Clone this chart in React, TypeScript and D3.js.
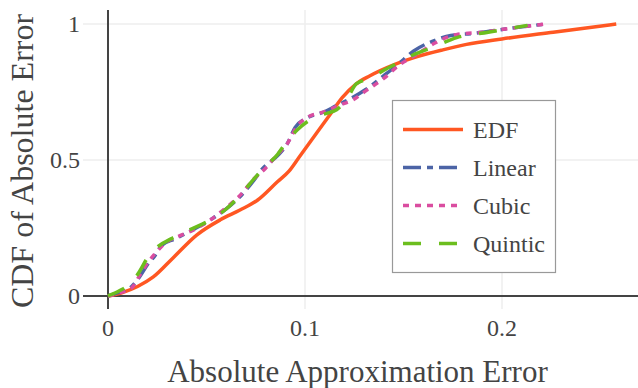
import React from "react";
import * as d3 from "d3";

const W = 638;
const H = 388;

const xTicks = [0, 0.1, 0.2];
const xTickLabels = ["0", "0.1", "0.2"];
const yTicks = [0, 0.5, 1];
const yTickLabels = ["0", "0.5", "1"];

const seriesNames = ["EDF", "Linear", "Cubic", "Quintic"];

const edfX = [0, 0.007, 0.015, 0.023, 0.033, 0.045, 0.057, 0.067, 0.076, 0.086, 0.092, 0.097, 0.106, 0.112, 0.119, 0.126, 0.133, 0.145, 0.157, 0.17, 0.182, 0.2, 0.226, 0.258];
const edfY = [0, 0.012, 0.035, 0.07, 0.14, 0.224, 0.28, 0.316, 0.353, 0.42, 0.46, 0.51, 0.6, 0.66, 0.73, 0.78, 0.81, 0.85, 0.88, 0.905, 0.925, 0.945, 0.97, 1.0];

const linearX = [0, 0.005, 0.012, 0.016, 0.02, 0.024, 0.027, 0.034, 0.043, 0.052, 0.06, 0.067, 0.074, 0.078, 0.086, 0.091, 0.095, 0.101, 0.109, 0.116, 0.123, 0.131, 0.14, 0.147, 0.155, 0.166, 0.174, 0.185, 0.2, 0.222];
const linearY = [0, 0.012, 0.035, 0.07, 0.115, 0.15, 0.185, 0.21, 0.243, 0.28, 0.32, 0.365, 0.425, 0.465, 0.515, 0.56, 0.62, 0.655, 0.675, 0.7, 0.725, 0.76, 0.81, 0.85, 0.9, 0.94, 0.958, 0.965, 0.98, 1.0];

const cubicX = [0, 0.005, 0.012, 0.016, 0.02, 0.025, 0.03, 0.036, 0.044, 0.052, 0.06, 0.067, 0.074, 0.08, 0.086, 0.091, 0.096, 0.102, 0.11, 0.117, 0.124, 0.131, 0.14, 0.148, 0.156, 0.166, 0.176, 0.19, 0.205, 0.222];
const cubicY = [0, 0.01, 0.03, 0.075, 0.12, 0.165, 0.2, 0.22, 0.245, 0.28, 0.325, 0.37, 0.43, 0.47, 0.52, 0.56, 0.625, 0.66, 0.678, 0.7, 0.72, 0.755, 0.8, 0.85, 0.885, 0.93, 0.96, 0.97, 0.985, 1.0];

const quinticX = [0, 0.006, 0.012, 0.016, 0.02, 0.025, 0.032, 0.042, 0.052, 0.06, 0.067, 0.074, 0.079, 0.086, 0.091, 0.096, 0.102, 0.108, 0.116, 0.121, 0.126, 0.133, 0.14, 0.148, 0.156, 0.165, 0.177, 0.193, 0.213];
const quinticY = [0, 0.02, 0.05, 0.09, 0.14, 0.18, 0.21, 0.245, 0.28, 0.32, 0.37, 0.43, 0.47, 0.52, 0.57, 0.61, 0.645, 0.665, 0.685, 0.72, 0.78, 0.8, 0.83, 0.86, 0.89, 0.915, 0.95, 0.97, 0.995];

const colors = ["#FF5722", "#4C64A6", "#DA4DA0", "#6CBE1E"];
const dashes = ["", "18,6,6,6", "6,6", "18,18"];

const FONT = "'Times New Roman', 'Liberation Serif', serif";
const TEXT = "#444";

export default function App() {
  const plotL = 83, plotR = 638, plotT = 10, plotB = 309;
  const x = d3.scaleLinear().domain([-0.01269, 0.26904]).range([plotL, plotR]);
  const y = d3.scaleLinear().domain([-0.0478, 1.0515]).range([plotB, plotT]);

  const xs = [edfX, linearX, cubicX, quinticX];
  const ys = [edfY, linearY, cubicY, quinticY];

  const line = d3
    .line<[number, number]>()
    .x((d) => x(d[0]))
    .y((d) => y(d[1]))
    .curve(d3.curveMonotoneX);

  const legend = { x: 392.5, y: 100.5, w: 163, h: 172 };
  const legendRows = [129.5, 167.5, 205.5, 243.5];

  return (
    <svg
      width={W}
      height={H}
      style={{ position: "absolute", left: 0, top: 0, background: "#fff", fontFamily: FONT }}
    >
      <defs>
        <clipPath id="plotclip">
          <rect x={plotL} y={plotT} width={plotR - plotL} height={plotB - plotT} />
        </clipPath>
      </defs>
      {xTicks.filter((t) => t !== 0).map((t) => (
        <line key={"gx" + t} x1={x(t)} x2={x(t)} y1={plotT} y2={plotB} stroke="#eee" strokeWidth={1.5} />
      ))}
      {yTicks.filter((t) => t !== 0).map((t) => (
        <line key={"gy" + t} x1={plotL} x2={plotR} y1={y(t)} y2={y(t)} stroke="#eee" strokeWidth={1.5} />
      ))}
      <line x1={x(0)} x2={x(0)} y1={plotT} y2={plotB} stroke="#444" strokeWidth={2} />
      <line x1={plotL} x2={plotR} y1={y(0)} y2={y(0)} stroke="#444" strokeWidth={2} />
      <g clipPath="url(#plotclip)">
        {xs.map((arr, i) => (
          <path
            key={seriesNames[i]}
            d={line(arr.map((v, j) => [v, ys[i][j]] as [number, number])) || ""}
            fill="none"
            stroke={colors[i]}
            strokeWidth={3.5}
            strokeDasharray={dashes[i] || undefined}
          />
        ))}
      </g>
      {xTicks.map((t, i) => (
        <text key={"tx" + t} x={x(t)} y={336} textAnchor="middle" style={{ fontFamily: FONT, fontSize: "24px" }} fill={TEXT}>
          {xTickLabels[i]}
        </text>
      ))}
      {yTicks.map((t, i) => (
        <text key={"ty" + t} x={80} y={y(t) + 8} textAnchor="end" style={{ fontFamily: FONT, fontSize: "24px" }} fill={TEXT}>
          {yTickLabels[i]}
        </text>
      ))}
      <text x={357.5} y={382} textAnchor="middle" style={{ fontFamily: FONT, fontSize: "31px" }} fill={TEXT}>
        Absolute Approximation Error
      </text>
      <text
        transform={`translate(33, 161) rotate(-90)`}
        textAnchor="middle"
        style={{ fontFamily: FONT, fontSize: "32px" }}
        fill={TEXT}
      >
        CDF of Absolute Error
      </text>
      <rect x={legend.x} y={legend.y} width={legend.w} height={legend.h} fill="#fff" stroke="#999" strokeWidth={1.2} />
      {seriesNames.map((name, i) => (
        <g key={"lg" + name}>
          <line
            x1={403}
            x2={463}
            y1={legendRows[i]}
            y2={legendRows[i]}
            stroke={colors[i]}
            strokeWidth={3.5}
            strokeDasharray={dashes[i] || undefined}
          />
          <text x={473} y={legendRows[i] + 8.5} style={{ fontFamily: FONT, fontSize: "24px" }} fill={TEXT}>
            {name}
          </text>
        </g>
      ))}
    </svg>
  );
}
